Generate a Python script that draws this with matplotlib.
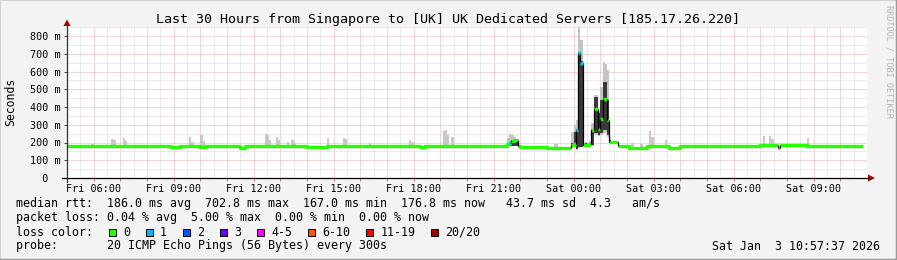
import matplotlib
matplotlib.use('Agg')
import matplotlib.pyplot as plt
from matplotlib.patches import Rectangle, Polygon
from matplotlib.lines import Line2D
from matplotlib.ticker import FixedLocator, MultipleLocator
import numpy as np

W, H = 897, 260
MONO = 'DejaVu Sans Mono'

# time axis: hours since Fri 00:00, 300 s steps
t_start = 5.0
t_end = 35.0
step_h = 5 / 60

# median rtt (ms), one value per 5 minute step
median = [
    182, 182, 182, 182, 182, 182, 182, 182, 182, 182, 182, 179,
    183, 183, 183, 183, 183, 183, 183, 183, 183, 183, 183, 183,
    183, 183, 183, 183, 183, 180, 180, 180, 180, 180, 182, 182,
    182, 182, 182, 182, 182, 182, 182, 182, 182, 182, 182, 172,
    172, 172, 172, 181, 181, 181, 181, 181, 181, 181, 181, 181,
    174, 174, 182, 182, 182, 182, 182, 182, 182, 182, 182, 182,
    182, 182, 182, 182, 182, 182, 171, 171, 182, 182, 179, 179,
    179, 179, 183, 183, 183, 183, 183, 183, 183, 183, 183, 183,
    180, 180, 180, 180, 180, 180, 180, 180, 180, 180, 180, 180,
    177, 177, 177, 174, 174, 174, 176, 176, 176, 178, 182, 182,
    182, 182, 182, 182, 182, 182, 182, 182, 182, 182, 182, 182,
    182, 182, 182, 182, 182, 182, 182, 182, 182, 182, 182, 182,
    182, 182, 182, 178, 178, 178, 182, 182, 182, 182, 182, 182,
    182, 182, 182, 177, 177, 180, 180, 180, 180, 180, 180, 180,
    180, 182, 182, 182, 182, 182, 182, 182, 182, 182, 182, 182,
    182, 182, 182, 180, 180, 180, 180, 181, 181, 181, 181, 181,
    181, 181, 181, 181, 181, 181, 190, 197, 210, 214, 212, 182,
    176, 176, 176, 176, 176, 176, 176, 176, 174, 174, 174, 174,
    170, 170, 170, 170, 170, 170, 170, 171, 171, 171, 171, 185,
    190, 270, 706, 650, 186, 188, 186, 190, 270, 387, 387, 275,
    332, 445, 445, 327, 205, 205, 205, 205, 178, 178, 178, 178,
    178, 170, 170, 170, 170, 171, 171, 171, 171, 178, 178, 178,
    178, 178, 178, 178, 178, 178, 178, 170, 170, 170, 170, 170,
    178, 178, 178, 178, 178, 178, 178, 182, 182, 182, 182, 182,
    182, 182, 182, 182, 182, 182, 182, 182, 182, 182, 182, 182,
    182, 182, 182, 182, 182, 182, 182, 182, 182, 182, 182, 182,
    184, 184, 184, 184, 184, 184, 184, 184, 170, 184, 184, 184,
    184, 184, 184, 184, 184, 184, 184, 184, 184, 182, 182, 182,
    182, 182, 182, 182, 182, 182, 182, 182, 182, 182, 182, 182,
    178, 178, 178, 178, 178, 178, 178, 178, 178, 178,
]
# steps where 1 of 20 pings was lost
loss1_idx = [199, 229, 230, 231]

# isolated light smoke spikes (step index, highest ping ms)
smoke_idx = [11, 20, 21, 25, 26, 55, 56, 60, 61, 89, 90, 91, 94, 95, 99,
             101, 102, 117, 124, 125, 136, 154, 155, 169, 170, 171, 173,
             219, 220, 254, 258, 262, 263, 269, 313, 316, 317, 333]
smoke_top = [192, 220, 212, 223, 210, 233, 205, 242, 210, 248, 240, 215, 229, 215, 204,
             212, 200, 223, 225, 218, 200, 216, 205, 262, 270, 240, 232,
             190, 192, 197, 190, 265, 230, 214, 236, 236, 220, 223]

# burst periods: outer (light) and inner (dark) smoke bands, ms
burst_idx = [198, 199, 200, 201, 202, 227, 228, 229, 230, 231, 232, 233, 234,
             235, 236, 237, 238, 239, 240, 241, 242, 243, 244]
light_lo = [178, 178, 180, 180, 180, 175, 170, 160, 170, 172, 176, 176, 176,
            178, 180, 240, 240, 235, 240, 255, 255, 230, 195]
light_hi = [225, 246, 240, 232, 218, 261, 300, 327, 848, 777, 200, 205, 200,
            210, 310, 468, 470, 380, 514, 655, 640, 608, 230]
dark_lo = [180, 182, 182, 182, 182, 180, 178, 165, 175, 176, 180, 180, 180,
           182, 185, 253, 253, 242, 253, 270, 270, 242, 198]
dark_hi = [195, 205, 215, 218, 214, 200, 260, 275, 711, 660, 192, 195, 190,
           195, 275, 458, 458, 366, 439, 543, 543, 439, 215]

ytick_vals = [0, 100, 200, 300, 400, 500, 600, 700, 800]
ytick_labels = ['  0', '100 m', '200 m', '300 m', '400 m', '500 m', '600 m', '700 m', '800 m']
xtick_hours = [6, 9, 12, 15, 18, 21, 24, 27, 30, 33]
xtick_labels = ['Fri 06:00', 'Fri 09:00', 'Fri 12:00', 'Fri 15:00', 'Fri 18:00',
                'Fri 21:00', 'Sat 00:00', 'Sat 03:00', 'Sat 06:00', 'Sat 09:00']

loss_names = ['0', '1', '2', '3', '4-5', '6-10', '11-19', '20/20']
loss_colors = ['#26FF00', '#00B8FF', '#0059FF', '#6E00FF', '#FF00FF', '#FF5500', '#FF0000', '#A00000']

title = 'Last 30 Hours from Singapore to [UK] UK Dedicated Servers [185.17.26.220]'
legend_lines = [
    'median rtt:  186.0 ms avg  702.8 ms max  167.0 ms min  176.8 ms now   43.7 ms sd  4.3   am/s',
    'packet loss: 0.04 % avg  5.00 % max  0.00 % min  0.00 % now',
    'loss color:',
    'probe:       20 ICMP Echo Pings (56 Bytes) every 300s',
]
stamp = 'Sat Jan  3 10:57:37 2026'

# ---------------------------------------------------------------
fig = plt.figure(figsize=(W / 100, H / 100), dpi=100, facecolor='#F3F3F3')

def fx(x):
    return x / W

def fy(y):
    return 1 - y / H

plot_l, plot_r, plot_t, plot_b = 67, 867, 27, 178
ax = fig.add_axes([fx(plot_l), fy(plot_b), (plot_r - plot_l) / W, (plot_b - plot_t) / H])
ax.set_facecolor('white')
ax.set_xlim(t_start, t_end)
ax.set_ylim(0, (plot_b - plot_t) / 0.1775)
for s in ax.spines.values():
    s.set_visible(False)

# grid
ax.xaxis.set_major_locator(FixedLocator(np.arange(6, 35, 1)))
ax.xaxis.set_minor_locator(MultipleLocator(0.5))
ax.yaxis.set_major_locator(FixedLocator(ytick_vals))
ax.yaxis.set_minor_locator(MultipleLocator(50))
ax.grid(which='major', color='#F4ABAB', linestyle=(0, (1, 1)), linewidth=0.72, zorder=0)
ax.grid(which='minor', color='#D6D6D6', linestyle=(0, (1, 1)), linewidth=0.72, zorder=0)
ax.set_axisbelow(True)

lab_map = dict(zip(xtick_hours, xtick_labels))
ax.set_xticklabels([lab_map.get(int(h), '') for h in np.arange(6, 35, 1)])
ax.tick_params(axis='x', which='major', length=2.2, width=0.72, color='#E06060',
               pad=2.0, labelsize=7.3)
ax.tick_params(axis='y', which='major', length=2.2, width=0.72, color='#404040',
               pad=(plot_l - 30) * 0.72 - 2.2, labelsize=7.3)
ax.tick_params(which='minor', length=0)
ax.set_yticklabels(ytick_labels)
for lab in ax.get_xticklabels() + ax.get_yticklabels():
    lab.set_fontfamily(MONO)
for lab in ax.get_yticklabels():
    lab.set_horizontalalignment('left')

t = t_start + np.arange(len(median)) * step_h
med = np.array(median, dtype=float)

# smoke
si = np.array(smoke_idx)
ax.bar(t[si], np.array(smoke_top) - med[si] + 4, bottom=med[si] - 4, width=step_h,
       align='edge', color='#C8C8C8', linewidth=0, zorder=2)
bi = np.array(burst_idx)
ax.bar(t[bi], np.array(light_hi) - np.array(light_lo), bottom=light_lo, width=step_h,
       align='edge', color='#C4C4C4', linewidth=0, zorder=2)
ax.bar(t[bi], np.array(dark_hi) - np.array(dark_lo), bottom=dark_lo, width=step_h,
       align='edge', color='#3A3A3A', linewidth=0, zorder=2)

# median line: green steps broken at big jumps, thin black risers there, blue where loss
big = np.abs(np.diff(med)) > 12
xs, ys = [], []
for i in range(len(med)):
    if i > 0 and big[i - 1]:
        xs.append(np.nan)
        ys.append(np.nan)
    xs += [t[i], t[i] + step_h]
    ys += [med[i], med[i]]
ax.plot(xs, ys, color=loss_colors[0], linewidth=2.4, solid_capstyle='butt', zorder=3)
jump = np.nonzero(big)[0] + 1
ax.vlines(t[jump], np.minimum(med[jump - 1], med[jump]), np.maximum(med[jump - 1], med[jump]),
          colors='black', linewidth=0.9, zorder=4)
li = np.array(loss1_idx)
ax.hlines(med[li], t[li], t[li] + step_h, colors=loss_colors[1], linewidth=2.4, zorder=5)

# axis lines with arrows
axis_col = '#000000'
arrow_col = '#A00000'
fig.add_artist(Line2D([fx(62), fx(868)], [fy(178), fy(178)], color=axis_col, lw=0.9))
fig.add_artist(Line2D([fx(67), fx(67)], [fy(182), fy(26)], color='#303030', lw=0.9))
fig.add_artist(Polygon([[fx(868), fy(174.5)], [fx(875), fy(178)], [fx(868), fy(181.5)]],
                       closed=True, color=arrow_col, lw=0))
fig.add_artist(Polygon([[fx(63.5), fy(26)], [fx(67), fy(19.5)], [fx(70.5), fy(26)]],
                       closed=True, color=arrow_col, lw=0))

# texts
fig.text(fx(448), fy(19), title, ha='center', va='center', fontsize=9.6, family=MONO)
fig.text(fx(11), fy(102), 'Seconds', ha='center', va='center', rotation=90,
         fontsize=8.3, family=MONO)
fig.text(fx(888.5), fy(5), 'RRDTOOL / TOBI OETIKER', ha='center', va='top', rotation=270,
         fontsize=6.1, family=MONO, color='#B4B4B4')

line_y = [204, 218, 232, 246]
for y, s in zip(line_y, legend_lines):
    fig.text(fx(16), fy(y), s, ha='left', va='center', fontsize=8.4, family=MONO)
fig.text(fx(880), fy(246), stamp, ha='right', va='center', fontsize=8.4, family=MONO)

char_w = 7.02
bx = 109
for name, col in zip(loss_names, loss_colors):
    fig.add_artist(Rectangle((fx(bx), fy(235.5)), 7 / W, 7 / H, facecolor=col,
                             edgecolor='black', linewidth=0.7))
    fig.text(fx(bx + 14), fy(232), name, ha='left', va='center', fontsize=8.4, family=MONO)
    bx = bx + 14 + len(name) * char_w + 16

# bevelled frame
fig.add_artist(Line2D([0, 0, 1], [0, 1, 1], color='#D2D2D2', lw=1.5))
fig.add_artist(Line2D([0, 1, 1], [0, 0, 1], color='#9A9A9A', lw=2.5))

fig.savefig('out.png', dpi=100, facecolor=fig.get_facecolor())
